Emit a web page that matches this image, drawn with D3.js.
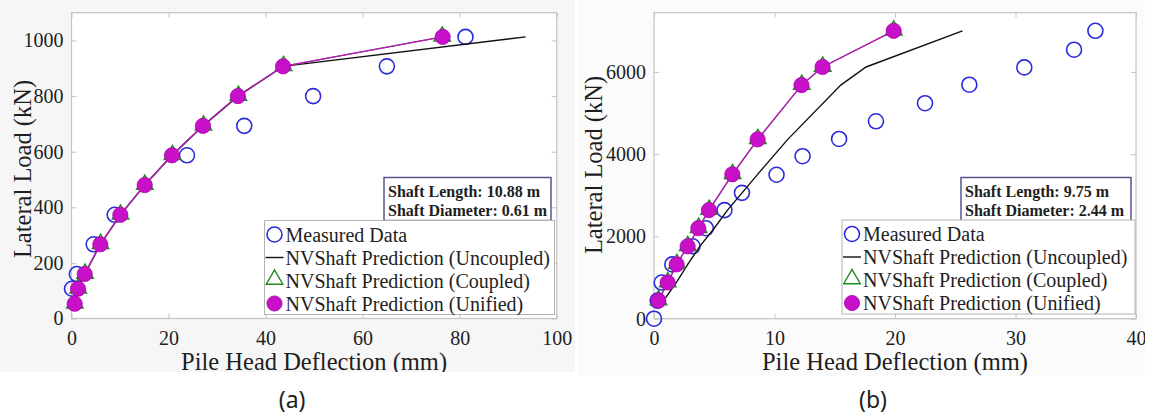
<!DOCTYPE html>
<html>
<head>
<meta charset="utf-8">
<script src="https://cdn.jsdelivr.net/npm/d3@7/dist/d3.min.js"></script>
<style>
  html, body { margin: 0; padding: 0; background: #ffffff; }
  svg { display: block; }
  text { font-family: "Liberation Serif", "Times New Roman", serif; fill: #1e1e1e; }
</style>
</head>
<body>
<svg id="fig" width="1156" height="420"></svg>
<script>
// ---------- Panel (a): shaft 10.88 m x 0.61 m ----------
const loadsA        = [53, 107, 160, 267, 373, 480, 587, 693, 800, 907, 1013];          // kN
const unifiedDefA   = [0.66, 1.34, 2.72, 5.94, 10.06, 15.09, 20.7, 27.1, 34.3, 43.6, 76.5]; // mm
const coupledDefA   = [0.7, 1.4, 2.8, 6.0, 10.1, 15.1, 20.8, 27.2, 34.4, 43.7, 76.4];
const uncoupledDefA = [0.66, 1.34, 2.72, 5.94, 10.06, 15.09, 20.7, 27.1, 34.3, 43.6, 93.6];
const measuredLoadA = [107, 160, 267, 373, 587, 693, 800, 907, 1013];
const measuredDefA  = [0.1, 1.1, 4.57, 8.9, 23.8, 35.6, 49.8, 65.0, 81.2];
const xTicksA = [0, 20, 40, 60, 80, 100];
const yTicksA = [0, 200, 400, 600, 800, 1000];

// ---------- Panel (b): shaft 9.75 m x 2.44 m ----------
const loadsB        = [440, 880, 1320, 1760, 2200, 2640, 3510, 4360, 5680, 6120, 7000];
const unifiedDefB   = [0.36, 1.13, 1.88, 2.79, 3.68, 4.56, 6.5, 8.6, 12.24, 13.99, 19.89];
const coupledDefB   = [0.38, 1.15, 1.9, 2.8, 3.7, 4.58, 6.52, 8.62, 12.26, 14.0, 19.9];
const uncoupledDefB = [0.8, 1.85, 2.8, 3.8, 5.0, 6.1, 8.6, 11.1, 15.5, 17.6, 25.6];
const measuredLoadB = [0, 440, 880, 1320, 1760, 2200, 2640, 3060, 3500, 3950, 4370, 4800, 5240, 5690, 6110, 6540, 7000];
const measuredDefB  = [0, 0.3, 0.64, 1.52, 3.2, 4.3, 5.85, 7.3, 10.17, 12.33, 15.36, 18.42, 22.49, 26.17, 30.73, 34.86, 36.63];
const xTicksB = [0, 10, 20, 30, 40];
const yTicksB = [0, 2000, 4000, 6000];

const legendLabels = ["Measured Data", "NVShaft Prediction (Uncoupled)",
                      "NVShaft Prediction (Coupled)", "NVShaft Prediction (Unified)"];
const infoA = ["Shaft Length: 10.88 m", "Shaft Diameter: 0.61 m"];
const infoB = ["Shaft Length: 9.75 m", "Shaft Diameter: 2.44 m"];

const COL = { measured: "#2b2bdc", uncoupled: "#111111", coupled: "#1f8a1f",
              unified: "#c810c8", unifiedEdge: "#a800a8", frame: "#c4c4c4" };

const svg = d3.select("#fig");
const defs = svg.append("defs");

function zip(xs, ys) { return xs.map((x, i) => [x, ys[i]]); }

function panel(cfg) {
  const clipId = "clip-" + cfg.id;
  defs.append("clipPath").attr("id", clipId)
    .append("rect").attr("x", cfg.clip[0]).attr("y", cfg.clip[1])
    .attr("width", cfg.clip[2]).attr("height", cfg.clip[3]);

  const g = svg.append("g").attr("clip-path", `url(#${clipId})`);
  g.append("rect").attr("x", cfg.clip[0]).attr("y", cfg.clip[1])
    .attr("width", cfg.clip[2]).attr("height", cfg.clip[3]).attr("fill", cfg.bg);

  const x = d3.scaleLinear().domain(cfg.xDomain).range(cfg.xRange);
  const y = d3.scaleLinear().domain(cfg.yDomain).range(cfg.yRange);
  const [x0, x1] = cfg.xRange, [y0, y1] = cfg.yRange;

  // plot area
  g.append("rect").attr("x", x0).attr("y", y1).attr("width", x1 - x0).attr("height", y0 - y1)
    .attr("fill", "#ffffff");

  // axes with inward ticks on all four sides
  const axB = g.append("g").attr("transform", `translate(0,${y0})`)
    .call(d3.axisBottom(x).tickValues(cfg.xTicks).tickSize(-5).tickPadding(12).tickFormat(d3.format("d")));
  const axT = g.append("g").attr("transform", `translate(0,${y1})`)
    .call(d3.axisTop(x).tickValues(cfg.xTicks).tickSize(-5).tickFormat(""));
  const axL = g.append("g").attr("transform", `translate(${x0},0)`)
    .call(d3.axisLeft(y).tickValues(cfg.yTicks).tickSize(-5).tickPadding(8).tickFormat(d3.format("d")));
  const axR = g.append("g").attr("transform", `translate(${x1},0)`)
    .call(d3.axisRight(y).tickValues(cfg.yTicks).tickSize(-5).tickFormat(""));
  [axB, axT, axL, axR].forEach(a => {
    a.select(".domain").remove();
    a.selectAll("line").attr("stroke", COL.frame).attr("stroke-width", 1);
    a.selectAll("text").style("font-family", "Liberation Serif, serif")
      .style("font-size", "20px").attr("fill", "#1e1e1e");
  });

  g.append("rect").attr("x", x0).attr("y", y1).attr("width", x1 - x0).attr("height", y0 - y1)
    .attr("fill", "none").attr("stroke", COL.frame).attr("stroke-width", 1.2);

  // axis titles
  g.append("text").attr("x", (x0 + x1) / 2).attr("y", cfg.xLabelY)
    .attr("text-anchor", "middle").style("font-size", "24.5px")
    .text("Pile Head Deflection (mm)");
  g.append("text").attr("transform", `translate(${cfg.yLabelX},${cfg.yLabelCY}) rotate(-90)`)
    .attr("text-anchor", "middle").style("font-size", "24.5px")
    .text("Lateral Load (kN)");

  const line = d3.line().x(d => x(d[0])).y(d => y(d[1]));

  // measured data: open blue circles
  g.append("g").selectAll("circle").data(zip(cfg.mDef, cfg.mLoad)).join("circle")
    .attr("cx", d => x(d[0])).attr("cy", d => y(d[1])).attr("r", 7.5)
    .attr("fill", "none").attr("stroke", COL.measured).attr("stroke-width", 1.6);

  // uncoupled prediction: black line
  g.append("path").datum(zip(cfg.uDef, cfg.loads)).attr("d", line)
    .attr("fill", "none").attr("stroke", COL.uncoupled).attr("stroke-width", 1.4);

  // coupled prediction: green line with open triangles
  const cData = zip(cfg.cDef, cfg.loads);
  g.append("path").datum(cData).attr("d", line)
    .attr("fill", "none").attr("stroke", COL.coupled).attr("stroke-width", 1.2);
  const tri = d3.symbol(d3.symbolTriangle).size(118);
  g.append("g").selectAll("path").data(cData).join("path")
    .attr("d", tri).attr("transform", d => `translate(${x(d[0])},${y(d[1]) - 0.5})`)
    .attr("fill", "none").attr("stroke", COL.coupled).attr("stroke-width", 1.4);

  // unified prediction: magenta line with filled circles
  const uniData = zip(cfg.uniDef, cfg.loads);
  g.append("path").datum(uniData).attr("d", line)
    .attr("fill", "none").attr("stroke", COL.unified).attr("stroke-width", 1.3);
  g.append("g").selectAll("circle").data(uniData).join("circle")
    .attr("cx", d => x(d[0])).attr("cy", d => y(d[1])).attr("r", 7.6)
    .attr("fill", COL.unified).attr("stroke", COL.unifiedEdge).attr("stroke-width", 0.8);

  // shaft dimensions box
  const ib = cfg.infoBox;
  g.append("rect").attr("x", ib[0]).attr("y", ib[1]).attr("width", ib[2]).attr("height", ib[3])
    .attr("fill", "#ffffff").attr("stroke", "#55558c").attr("stroke-width", 1.5);
  g.append("g").selectAll("text").data(cfg.info).join("text")
    .attr("x", ib[0] + 4).attr("y", (d, i) => ib[1] + 19 + i * 19)
    .style("font-size", "16px").style("font-weight", "bold").text(d => d);

  // legend
  const lb = cfg.legendBox;
  const lg = g.append("g");
  lg.append("rect").attr("x", lb[0]).attr("y", lb[1]).attr("width", lb[2]).attr("height", lb[3])
    .attr("fill", "#ffffff").attr("stroke", "#b4b4b4").attr("stroke-width", 1);
  const rowY = i => lb[1] + 14 + i * 23;
  const sx = lb[0] + 10;
  lg.append("circle").attr("cx", sx).attr("cy", rowY(0)).attr("r", 7.5)
    .attr("fill", "none").attr("stroke", COL.measured).attr("stroke-width", 1.6);
  lg.append("line").attr("x1", lb[0] + 1).attr("x2", lb[0] + 19).attr("y1", rowY(1)).attr("y2", rowY(1))
    .attr("stroke", COL.uncoupled).attr("stroke-width", 1.4);
  lg.append("path").attr("d", tri).attr("transform", `translate(${sx},${rowY(2) - 1})`)
    .attr("fill", "none").attr("stroke", COL.coupled).attr("stroke-width", 1.4);
  lg.append("circle").attr("cx", sx).attr("cy", rowY(3)).attr("r", 7.6)
    .attr("fill", COL.unified).attr("stroke", COL.unifiedEdge).attr("stroke-width", 0.8);
  lg.selectAll("text.lab").data(legendLabels).join("text").attr("class", "lab")
    .attr("x", lb[0] + 21).attr("y", (d, i) => rowY(i) + 7)
    .style("font-size", "20px").text(d => d);

  // sub-figure caption
  svg.append("text").attr("x", (x0 + x1) / 2 - 22).attr("y", 408)
    .attr("text-anchor", "middle")
    .style("font-family", "'Noto Sans', 'Open Sans', sans-serif").style("font-size", "23px")
    .attr("fill", "#111").text(cfg.caption);
}

panel({
  id: "a", clip: [0, 0, 575, 372], bg: "#f6f6f6",
  xDomain: [0, 100], xRange: [71.5, 556.7], yDomain: [0, 1100], yRange: [318.5, 12.7],
  xTicks: xTicksA, yTicks: yTicksA, xLabelY: 370, yLabelX: 31, yLabelCY: 169,
  loads: loadsA, uniDef: unifiedDefA, cDef: coupledDefA, uDef: uncoupledDefA,
  mLoad: measuredLoadA, mDef: measuredDefA,
  info: infoA, infoBox: [384, 177.5, 167, 43], legendBox: [264.5, 220.5, 290, 94],
  caption: "(a)"
});

panel({
  id: "b", clip: [578, 0, 567, 376], bg: "#fbfbfb",
  xDomain: [0, 40], xRange: [654, 1136], yDomain: [0, 7440], yRange: [318.7, 12.7],
  xTicks: xTicksB, yTicks: yTicksB, xLabelY: 370, yLabelX: 602, yLabelCY: 165,
  loads: loadsB, uniDef: unifiedDefB, cDef: coupledDefB, uDef: uncoupledDefB,
  mLoad: measuredLoadB, mDef: measuredDefB,
  info: infoB, infoBox: [961, 177.5, 170, 44], legendBox: [842, 220, 293, 94],
  caption: "(b)"
});
</script>
</body>
</html>
